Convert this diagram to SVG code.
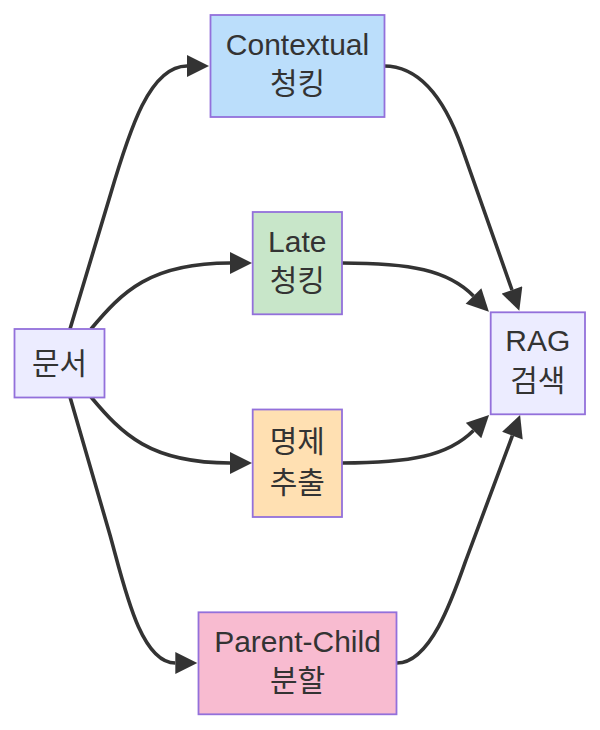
<svg xmlns="http://www.w3.org/2000/svg" width="600" height="730" viewBox="0 0 600 730">
<defs>
<style>
.node rect{stroke:#9370DB;stroke-width:1.8}
.node text{font-family:"Liberation Sans","Noto Sans CJK KR",Arial,sans-serif;font-size:30px;fill:#333;text-anchor:middle}
.edge{fill:none;stroke:#333;stroke-width:3.6;marker-end:url(#arrow)}
</style>
<marker id="arrow" viewBox="0 0 10 10" refX="0" refY="5" markerWidth="23" markerHeight="22" markerUnits="userSpaceOnUse" orient="auto">
<path d="M0,0 L10,5 L0,10 z" fill="#333"/>
</marker>
</defs>
<rect width="600" height="730" fill="#fff"/>
<g id="edges">
<path class="edge" d="M70,329 L110,196 C130,128 150,66 187,66"/>
<path class="edge" d="M91,329 C122,292 150,263 230,263"/>
<path class="edge" d="M91,397 C122,434 150,463 230,463"/>
<path class="edge" d="M70,397 L110,535 C124,585 140,663 175.3,663"/>
<path class="edge" d="M384,66 C420,66 445,100 462,148 L512,290"/>
<path class="edge" d="M342,263 C410,263 448,270 473.5,296"/>
<path class="edge" d="M342,463 C410,463 448,456 473.5,430.5"/>
<path class="edge" d="M397,663 C430,663 452,600 466,560 L512.4,435.7"/>
</g>
<g id="doc" class="node">
<rect x="14.5" y="329" width="90" height="68.5" fill="#ECECFF"/>
<text x="59.5" y="373.5">문서</text>
</g>
<g id="contextual" class="node">
<rect x="210.5" y="15" width="174" height="102" fill="#BBDEFB"/>
<text x="297.5" y="55">Contextual</text>
<text x="297.5" y="93.5">청킹</text>
</g>
<g id="late" class="node">
<rect x="252.7" y="212" width="89.3" height="102.3" fill="#C8E6C9"/>
<text x="297.3" y="252">Late</text>
<text x="297.3" y="290.5">청킹</text>
</g>
<g id="proposition" class="node">
<rect x="252.7" y="409.5" width="89.3" height="107.5" fill="#FFE0B2"/>
<text x="297.3" y="451.5">명제</text>
<text x="297.3" y="492.5">추출</text>
</g>
<g id="parentchild" class="node">
<rect x="198.5" y="612.3" width="198" height="102" fill="#F8BBD0"/>
<text x="297.5" y="652">Parent-Child</text>
<text x="297.5" y="690.5">분할</text>
</g>
<g id="rag" class="node">
<rect x="490.7" y="312.3" width="94.3" height="102" fill="#ECECFF"/>
<text x="537.8" y="351">RAG</text>
<text x="537.8" y="390.5">검색</text>
</g>
</svg>
